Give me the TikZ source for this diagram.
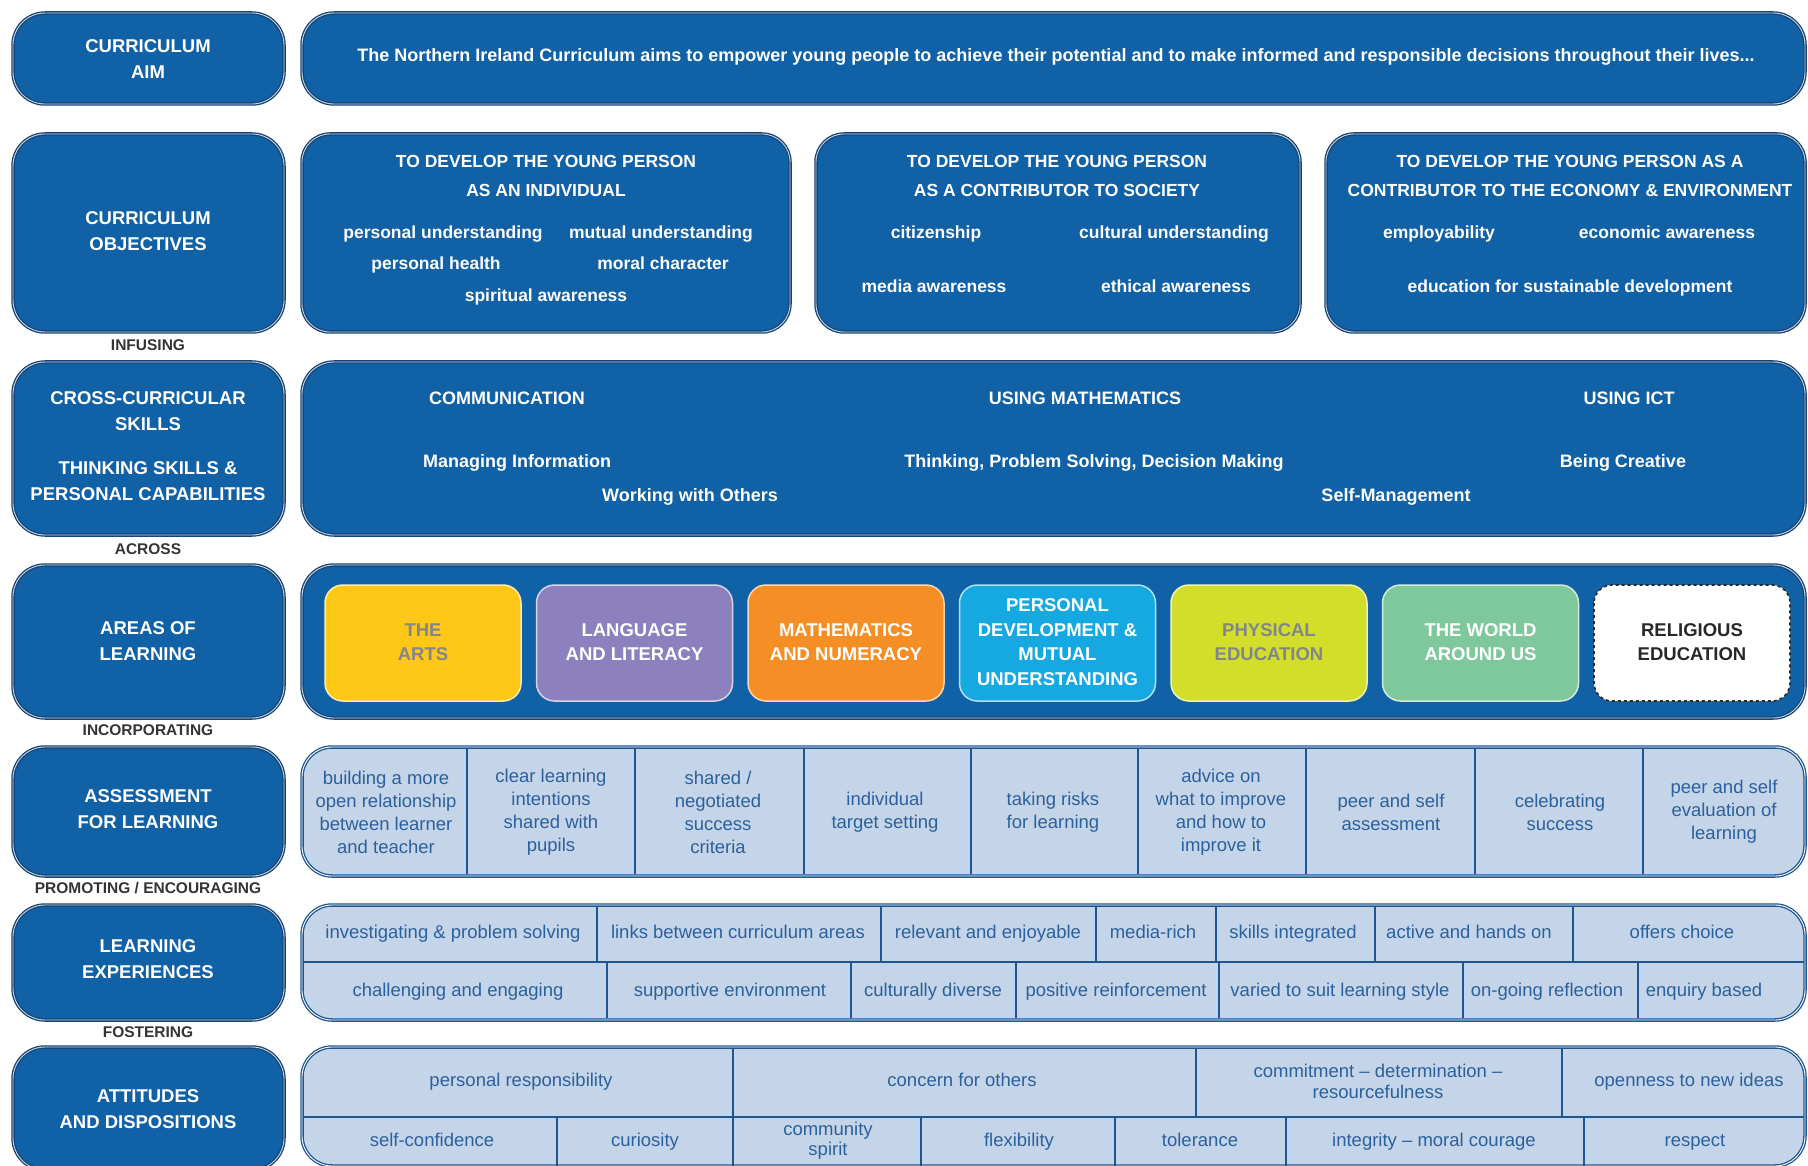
\documentclass[tikz,border=0pt]{standalone}
\usepackage{fontspec}
\setmainfont{Liberation Sans}
\usepackage{tikz}

% colours
\definecolor{niblue}{RGB}{16,97,166}
\definecolor{niedge}{RGB}{24,68,116}
\definecolor{cellfill}{RGB}{197,213,233}
\definecolor{cellink}{RGB}{44,96,156}
\definecolor{cellrule}{RGB}{30,86,146}
\definecolor{joinink}{RGB}{52,52,52}
\definecolor{artsfill}{RGB}{255,199,22}
\definecolor{langfill}{RGB}{140,128,190}
\definecolor{mathfill}{RGB}{246,142,38}
\definecolor{pdmufill}{RGB}{22,168,224}
\definecolor{pefill}{RGB}{211,222,42}
\definecolor{worldfill}{RGB}{126,200,156}
\definecolor{greyink}{RGB}{128,134,140}
\definecolor{darkink}{RGB}{40,40,40}

\tikzset{
  bluebox/.style={fill=niblue, draw=niedge, line width=1.3pt, double=white!75!niblue, double distance=0.9pt, rounded corners=#1},
  bluebox/.default=32pt,
  cellbox/.style={fill=cellfill, draw=cellrule, line width=1.3pt, double=white, double distance=0.9pt, rounded corners=30pt},
  cellsep/.style={draw=cellrule, line width=1.6pt},
  areabox/.style={fill=#1, draw=white!65!#1, line width=1.5pt, rounded corners=18pt},
  oneline/.style={text height=13pt, text depth=4pt},
  labtext/.style={text=white, font=\bfseries\fontsize{18.5}{26}\selectfont, align=center, inner sep=0pt},
  headtext/.style={text=white, font=\bfseries\fontsize{17.5}{29}\selectfont, align=center, inner sep=0pt},
  wtext/.style={text=white, font=\bfseries\fontsize{17.5}{22}\selectfont, inner sep=0pt, oneline},
  areatext/.style={font=\bfseries\fontsize{18.5}{24.5}\selectfont, align=center, inner sep=0pt},
  celltext/.style={text=cellink, font=\fontsize{18.5}{23}\selectfont, align=center, inner sep=0pt},
  jointext/.style={text=joinink, font=\bfseries\fontsize{15.5}{18}\selectfont, inner sep=0pt, oneline},
}

\begin{document}
\begin{tikzpicture}[x=1pt, y=-1pt]
\useasboundingbox (0,0) rectangle (1808,1166);
\clip (0,0) rectangle (1808,1166);
\fill[white] (0,0) rectangle (1808,1166);

% left-hand labels
\foreach \top/\bot in {13/104, 134/332, 362/535, 565/718, 747/876, 905/1020, 1047/1170}
  \draw[bluebox] (13,\top) rectangle (284,\bot);

\node[labtext] (aimlab) at (148,59) {CURRICULUM\\AIM};
\node[labtext] (objlab) at (148,231) {CURRICULUM\\OBJECTIVES};
\node[labtext] (skilllab) at (148,446) {CROSS-CURRICULAR\\SKILLS\\[18pt]THINKING SKILLS \&\\PERSONAL CAPABILITIES};
\node[labtext] (arealab) at (148,641) {AREAS OF\\LEARNING};
\node[labtext] (afllab) at (148,809) {ASSESSMENT\\FOR LEARNING};
\node[labtext] (lexlab) at (148,959) {LEARNING\\EXPERIENCES};
\node[labtext] (attlab) at (148,1109) {ATTITUDES\\AND DISPOSITIONS};

% words between the rows
\node[jointext] (infusing) at (148,346) {INFUSING};
\node[jointext] (across) at (148,550) {ACROSS};
\node[jointext] (incorp) at (148,731) {INCORPORATING};
\node[jointext] (promoting) at (148,889) {PROMOTING / ENCOURAGING};
\node[jointext] (fostering) at (148,1033) {FOSTERING};

% aim
\draw[bluebox] (302,13) rectangle (1805,104);
\node[wtext, font=\bfseries\fontsize{18}{22}\selectfont] (aimtxt) at (1056,57)
  {The Northern Ireland Curriculum aims to empower young people to achieve their potential and to make informed and responsible decisions throughout their lives...};

% objectives
\draw[bluebox=28pt] (302,134) rectangle (790,332);
\draw[bluebox=28pt] (816,134) rectangle (1300,332);
\draw[bluebox=28pt] (1326,134) rectangle (1805,332);

\node[headtext] (indhead) at (546,176) {TO DEVELOP THE YOUNG PERSON\\AS AN INDIVIDUAL};
\node[wtext] (persund) at (443,234) {personal understanding};
\node[wtext] (mutund) at (661,234) {mutual understanding};
\node[wtext] (pershealth) at (436,265) {personal health};
\node[wtext] (moralchar) at (663,265) {moral character};
\node[wtext] (spirit) at (546,297) {spiritual awareness};

\node[headtext] (sochead) at (1057,176) {TO DEVELOP THE YOUNG PERSON\\AS A CONTRIBUTOR TO SOCIETY};
\node[wtext] (citizen) at (936,234) {citizenship};
\node[wtext] (cultund) at (1174,234) {cultural understanding};
\node[wtext] (media) at (934,288) {media awareness};
\node[wtext] (ethical) at (1176,288) {ethical awareness};

\node[headtext] (ecohead) at (1570,176) {TO DEVELOP THE YOUNG PERSON AS A\\CONTRIBUTOR TO THE ECONOMY \& ENVIRONMENT};
\node[wtext] (employ) at (1439,234) {employability};
\node[wtext] (econ) at (1667,234) {economic awareness};
\node[wtext] (sustain) at (1570,288) {education for sustainable development};

% cross-curricular skills
\draw[bluebox] (302,362) rectangle (1805,535);
\node[wtext, font=\bfseries\fontsize{18}{22}\selectfont] (comm) at (507,400) {COMMUNICATION};
\node[wtext, font=\bfseries\fontsize{18}{22}\selectfont] (usemath) at (1085,400) {USING MATHEMATICS};
\node[wtext, font=\bfseries\fontsize{18}{22}\selectfont] (useict) at (1629,400) {USING ICT};
\node[wtext, font=\bfseries\fontsize{18}{22}\selectfont] (manage) at (517,463) {Managing Information};
\node[wtext, font=\bfseries\fontsize{18}{22}\selectfont] (think) at (1094,463) {Thinking, Problem Solving, Decision Making};
\node[wtext, font=\bfseries\fontsize{18}{22}\selectfont] (create) at (1623,463) {Being Creative};
\node[wtext, font=\bfseries\fontsize{18}{22}\selectfont] (others) at (690,497) {Working with Others};
\node[wtext, font=\bfseries\fontsize{18}{22}\selectfont] (selfman) at (1396,497) {Self-Management};

% areas of learning
\draw[bluebox] (302,565) rectangle (1805,718);
\foreach \i/\fc/\tc/\txt in {0/artsfill/greyink/{THE\\ARTS},
    1/langfill/white/{LANGUAGE\\AND LITERACY},
    2/mathfill/white/{MATHEMATICS\\AND NUMERACY},
    3/pdmufill/white/{PERSONAL\\DEVELOPMENT \&\\MUTUAL\\UNDERSTANDING},
    4/pefill/greyink/{PHYSICAL\\EDUCATION},
    5/worldfill/white/{THE WORLD\\AROUND US}} {
  \draw[areabox=\fc] (325+211.5*\i,585) rectangle ++(196,116);
  \node[areatext, text=\tc] (area\i) at (423+211.5*\i,642) {\txt};
}
\draw[fill=white, draw=darkink, line width=1.6pt, dashed, rounded corners=18pt] (1594,585) rectangle (1790,701);
\node[areatext, text=darkink] (area6) at (1692,642) {RELIGIOUS\\EDUCATION};

% assessment for learning
\draw[cellbox] (302,747) rectangle (1805,876);
\foreach \x in {467,635,804,971,1138,1306,1475,1643}
  \draw[cellsep] (\x,749) -- (\x,874);
\foreach \x/\txt [count=\i] in {386/{building a more\\open relationship\\between learner\\and teacher},
    551/{clear learning\\intentions\\shared with\\pupils},
    718/{shared /\\negotiated\\success\\criteria},
    885/{individual\\target setting},
    1053/{taking risks\\for learning},
    1221/{advice on\\what to improve\\and how to\\improve it},
    1391/{peer and self\\assessment},
    1560/{celebrating\\success},
    1724/{peer and self\\evaluation of\\learning}}
  \node[celltext] (afl\i) at (\x,812) {\txt};

% learning experiences
\draw[cellbox] (302,905) rectangle (1805,1020);
\draw[cellsep] (303,962) -- (1804,962);
\foreach \x in {597,881,1096,1216,1375,1573}
  \draw[cellsep] (\x,907) -- (\x,962);
\foreach \x in {607,851,1016,1219,1463,1638}
  \draw[cellsep] (\x,962) -- (\x,1018);
\foreach \x/\txt [count=\i] in {453/investigating \& problem solving, 738/links between curriculum areas,
    988/relevant and enjoyable, 1153/media-rich, 1293/skills integrated,
    1469/active and hands on, 1682/offers choice}
  \node[celltext, oneline] (lextop\i) at (\x,934) {\txt};
\foreach \x/\txt [count=\i] in {458/challenging and engaging, 730/supportive environment,
    933/culturally diverse, 1116/positive reinforcement, 1340/varied to suit learning style,
    1547/on-going reflection, 1704/enquiry based}
  \node[celltext, oneline] (lexbot\i) at (\x,992) {\txt};

% attitudes and dispositions
\draw[cellbox] (302,1047) rectangle (1805,1166);
\draw[cellsep] (303,1117) -- (1804,1117);
\foreach \x in {733,1196,1562}
  \draw[cellsep] (\x,1049) -- (\x,1117);
\foreach \x in {557,733,921,1115,1286,1584}
  \draw[cellsep] (\x,1117) -- (\x,1166);
\foreach \x/\txt [count=\i] in {521/personal responsibility, 962/concern for others, 1689/openness to new ideas}
  \node[celltext, oneline] (atttop\i) at (\x,1082) {\txt};
\node[celltext, font=\fontsize{18.5}{21}\selectfont] (atttop4) at (1378,1081) {commitment – determination –\\resourcefulness};
\foreach \x/\txt [count=\i] in {432/self-confidence, 645/curiosity, 1019/flexibility, 1200/tolerance,
    1434/integrity – moral courage, 1695/respect}
  \node[celltext, oneline] (attbot\i) at (\x,1142) {\txt};
\node[celltext, font=\fontsize{18.5}{20}\selectfont] (attbot7) at (828,1141) {community\\spirit};

\end{tikzpicture}
\end{document}
